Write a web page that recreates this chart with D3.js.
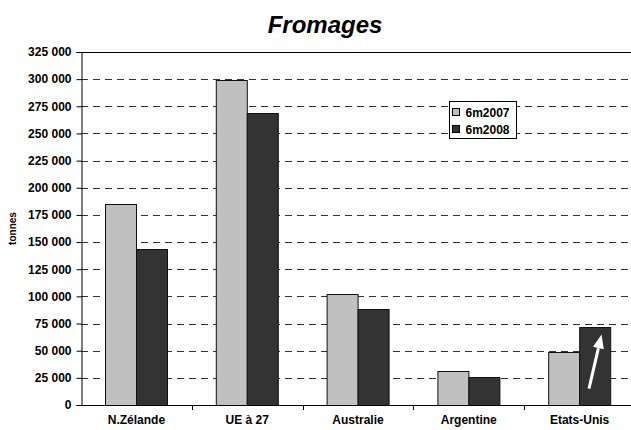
<!DOCTYPE html>
<html>
<head>
<meta charset="utf-8">
<script src="https://cdn.jsdelivr.net/npm/d3@7/dist/d3.min.js"></script>
<style>
  body { margin: 0; background: #fff; }
  svg { display: block; font-family: "Liberation Sans", Arial, sans-serif; font-weight: bold; }
</style>
</head>
<body>
<script>
// Cheese exports, first six months (tonnes)
const categories = ["N.Zélande", "UE à 27", "Australie", "Argentine", "Etats-Unis"];
const seriesNames = ["6m2007", "6m2008"];
const values2007 = [185500, 299500, 102000, 31500, 48500];
const values2008 = [143500, 269000, 88000, 25500, 72000];
const yTicks = [0, 25000, 50000, 75000, 100000, 125000, 150000, 175000, 200000,
                225000, 250000, 275000, 300000, 325000];
const chartTitle = "Fromages";
const yTitle = "tonnes";
// Trend arrow drawn inside the Etats-Unis 6m2008 bar (start / end values)
const arrowValues = [15000, 65000];

const W = 631, H = 430;
const plot = { left: 81, right: 635, top: 52, bottom: 405 };
const colors = { "6m2007": "#c0c0c0", "6m2008": "#333333" };

const svg = d3.select("body").append("svg").attr("width", W).attr("height", H);

const x = d3.scaleBand().domain(categories).range([plot.left, plot.right]);
const bw = x.bandwidth();
const xs = d3.scaleBand().domain(seriesNames).range([bw * 0.217, bw * 0.783]);
const y = d3.scaleLinear().domain([0, 325000]).range([plot.bottom, plot.top]);

const fmt = d3.formatLocale({ decimal: ",", thousands: " ", grouping: [3], currency: ["", " €"] }).format(",d");

// Title
svg.append("text")
  .attr("x", 325).attr("y", 33)
  .attr("text-anchor", "middle")
  .style("font-size", "24px").style("font-style", "italic")
  .text(chartTitle);

// Dashed horizontal gridlines
svg.append("g")
  .selectAll("line")
  .data(yTicks.filter(v => v > 0 && v < 325000))
  .join("line")
  .attr("x1", plot.left).attr("x2", W)
  .attr("y1", d => Math.round(y(d)) + 0.5).attr("y2", d => Math.round(y(d)) + 0.5)
  .attr("stroke", "#333").attr("stroke-width", 1)
  .attr("stroke-dasharray", "7,5");

// Top border of the plot area
svg.append("line")
  .attr("x1", plot.left).attr("x2", W)
  .attr("y1", Math.round(y(325000)) + 0.5).attr("y2", Math.round(y(325000)) + 0.5)
  .attr("stroke", "#000");

// Bars
const rows = categories.map((c, i) => ({ cat: c, vals: [values2007[i], values2008[i]] }));
const groups = svg.append("g").selectAll("g")
  .data(rows).join("g")
  .attr("transform", d => `translate(${x(d.cat)},0)`);
groups.selectAll("rect")
  .data(d => d.vals.map((v, k) => ({ s: seriesNames[k], v })))
  .join("rect")
  .attr("x", d => Math.round(xs(d.s)) + 0.5)
  .attr("width", Math.round(xs.bandwidth()))
  .attr("y", d => Math.round(y(d.v)) + 0.5)
  .attr("height", d => Math.round(y(0)) - Math.round(y(d.v)))
  .attr("fill", d => colors[d.s])
  .attr("stroke", "#111").attr("stroke-width", 1);

// Y axis
const yAxis = svg.append("g")
  .attr("transform", `translate(${plot.left + 0.5},0)`)
  .call(d3.axisLeft(y).tickValues(yTicks).tickSize(5).tickPadding(5).tickFormat(fmt));
yAxis.select(".domain").attr("stroke", "#000");
yAxis.selectAll(".tick line").attr("stroke", "#000");
yAxis.selectAll(".tick text")
  .style("font-size", "12px").style("font-family", "'Liberation Sans', Arial, sans-serif")
  .style("font-weight", "bold").attr("fill", "#000");

// X axis line with ticks at category boundaries
const xg = svg.append("g");
xg.append("line")
  .attr("x1", plot.left).attr("x2", W)
  .attr("y1", Math.round(y(0)) + 0.5).attr("y2", Math.round(y(0)) + 0.5)
  .attr("stroke", "#000");
xg.selectAll("line.tk")
  .data(categories.slice(1))
  .join("line").attr("class", "tk")
  .attr("x1", d => Math.round(x(d)) + 0.5).attr("x2", d => Math.round(x(d)) + 0.5)
  .attr("y1", Math.round(y(0))).attr("y2", Math.round(y(0)) + 5)
  .attr("stroke", "#000");
xg.selectAll("text")
  .data(categories)
  .join("text")
  .attr("x", d => x(d) + bw / 2)
  .attr("y", 424)
  .attr("text-anchor", "middle")
  .style("font-size", "12px")
  .text(d => d);

// Y axis title
svg.append("text")
  .attr("transform", `translate(16,${(plot.top + plot.bottom) / 2}) rotate(-90)`)
  .attr("text-anchor", "middle")
  .style("font-size", "10px")
  .text(yTitle);

// Trend arrow on the Etats-Unis 6m2008 bar
const ax = x("Etats-Unis") + xs("6m2008");
const xb = xs.bandwidth();
const p0 = [ax + xb * 0.3, y(arrowValues[0])];
const p1 = [ax + xb * 0.7, y(arrowValues[1])];
const ang = Math.atan2(p1[1] - p0[1], p1[0] - p0[0]);
const headLen = 14, headHalf = 5.5;
const base = [p1[0] - headLen * Math.cos(ang), p1[1] - headLen * Math.sin(ang)];
svg.append("line")
  .attr("x1", p0[0]).attr("y1", p0[1])
  .attr("x2", base[0]).attr("y2", base[1])
  .attr("stroke", "#fff").attr("stroke-width", 3);
svg.append("path")
  .attr("d", d3.line()([
    p1,
    [base[0] + headHalf * Math.sin(ang), base[1] - headHalf * Math.cos(ang)],
    [base[0] - headHalf * Math.sin(ang), base[1] + headHalf * Math.cos(ang)]
  ]) + "Z")
  .attr("fill", "#fff");

// Legend
const lg = svg.append("g").attr("transform", "translate(449.5,101.5)");
lg.append("rect").attr("width", 67).attr("height", 37)
  .attr("fill", "#fff").attr("stroke", "#000");
seriesNames.forEach((s, i) => {
  const row = lg.append("g").attr("transform", `translate(0,${6 + i * 17})`);
  row.append("rect").attr("x", 3).attr("y", 1).attr("width", 7).attr("height", 7)
    .attr("fill", colors[s]).attr("stroke", "#000");
  row.append("text").attr("x", 16).attr("y", 9.5)
    .style("font-size", "12px").text(s);
});
</script>
</body>
</html>
